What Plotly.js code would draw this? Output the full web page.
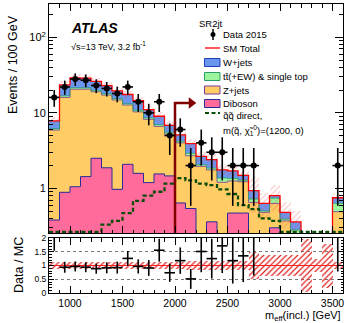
<!DOCTYPE html>
<html>
<head>
<meta charset="utf-8">
<script src="https://cdn.plot.ly/plotly-3.0.1.min.js"></script>
<style>
  html, body { margin: 0; padding: 0; background: #fff; }
  #chart { width: 349px; height: 323px; }
</style>
</head>
<body>
<div id="chart"></div>
<script>
// m_eff bins, 100 GeV wide
const binEdges = [800, 900, 1000, 1100, 1200, 1300, 1400, 1500, 1600, 1700, 1800, 1900, 2000, 2100,
                  2200, 2300, 2400, 2500, 2600, 2700, 2800, 2900, 3000, 3100, 3200, 3300, 3400, 3500, 3600];

// events / 100 GeV
const dataCounts = [16, 22, 28, 27, 23, 21, 18, 22, 14, 10, 14, 5, 6, 2,
                    4, 3, 3, 2, 2, 2, 0, 0, 0, 0, 0, 0, 0, 2];
const diboson = [0.38, 0.885, 1.05, 1.43, 2.5, 1.87, 0.97, 2.08, 1.58, 1.19, 1.55, 1.46, 0.64, 0.54,
                 0, 0.36, 0, 0.47, 0.47, 0, 0, 0.30, 0, 0, 0, 0, 0, 0];
const zJets = [5.52, 15.1, 19.45, 19.1, 16.5, 15.3, 13.8, 10.6, 8.7, 7.0, 5.05, 3.74, 3.36, 2.16,
               1.95, 1.39, 1.2, 0.78, 0.75, 0.65, 0.48, 0.33, 0.37, 0.24, 0.03, 0.04, 0.03, 0.49];
const ttbar = [0.25, 0.8, 0.9, 0.9, 0.8, 0.7, 0.6, 0.5, 0.5, 0.4, 0.35, 0.3, 0.2, 0.2,
               0.1, 0.1, 0.17, 0.1, 0.06, 0.07, 0.02, 0.11, 0.02, 0.04, 0.01, 0, 0, 0.14];
const wJets = [1.65, 6.7, 7.6, 7.4, 6.2, 5.1, 4.1, 4.3, 3.7, 2.4, 2.05, 1.3, 0.9, 1.0,
               0.6, 0.55, 0.38, 0.35, 0.2, 0.21, 0.13, 0.06, 0.09, 0.08, 0.01, 0.01, 0.01, 0.12];
// relative MC uncertainty (half width of hatched band)
const mcRelUnc = [0.12, 0.12, 0.12, 0.12, 0.12, 0.12, 0.12, 0.12, 0.13, 0.13, 0.13, 0.13, 0.14, 0.16,
                  0.17, 0.17, 0.17, 0.17, 0.17, 0.5, 0.37, 0.37, 0.37, 0.37, 0.95, 0.25, 0.8, 0.13];
// signal: squark pair, direct decay, m = (1200, 0)
const signal = [0.265, 0.265, 0.265, 0.265, 0.265, 0.33, 0.37, 0.47, 0.68, 0.8, 0.9, 1.15, 1.36, 1.27,
                1.15, 1.1, 0.97, 0.84, 0.6, 0.53, 0.4, 0.37, 0.265, 0.265, 0.265, 0.265, 0.265, 0.265];

const cutValue = 2000;   // SR2jt m_eff cut
const cutArrowEnd = 2150;
const cutArrowLevel = 13.5;

const colW = '#6a96ee', colT = '#9cf59c', colZ = '#ffcc66', colD = '#ff6b9a';
const lineW = '#1f3fbf', lineT = '#2a9d6a', lineZ = '#7a3a9a', lineD = '#2a2a9a';
const colSig = '#0b4d0b';
const colCut = '#800000';

// derived
const binCentres = binEdges.slice(0, -1).map((e, i) => (e + binEdges[i + 1]) / 2);
const cumD = diboson.slice();
const cumZ = cumD.map((v, i) => v + zJets[i]);
const cumT = cumZ.map((v, i) => v + ttbar[i]);
const total = cumT.map((v, i) => v + wJets[i]);

function stepY(vals) {
    const v = vals.map(x => Math.max(x, 1e-3));
    return v.concat([v[v.length - 1]]);
}

function stackBar(y, color) {
    return {type: 'bar', x: binCentres, y: y, width: 100, xaxis: 'x2', yaxis: 'y',
            marker: {color: color, line: {width: 0}}, hoverinfo: 'skip'};
}

function outline(y, color, width) {
    return {type: 'scatter', mode: 'lines', x: binEdges, y: stepY(y), xaxis: 'x2', yaxis: 'y',
            line: {shape: 'hv', color: color, width: width}, hoverinfo: 'skip'};
}

const hatch = {shape: '/', fgcolor: '#e02020', bgcolor: 'rgba(0,0,0,0)', size: 4, solidity: 0.3};

const dataY = dataCounts.map(n => n > 0 ? n : null);
const ratioY = dataCounts.map((n, i) => (n > 0 && total[i] > 0.1) ? n / total[i] : null);
const ratioErr = dataCounts.map((n, i) => (n > 0 && total[i] > 0.1) ? Math.sqrt(n) / total[i] : null);

const traces = [
    // stack, bottom to top
    stackBar(diboson, colD),
    stackBar(zJets, colZ),
    stackBar(ttbar, colT),
    stackBar(wJets, colW),
    // MC uncertainty on main panel
    {type: 'bar', x: binCentres, base: total.map((t, i) => t * (1 - mcRelUnc[i])),
     y: total.map((t, i) => 2 * t * mcRelUnc[i]), width: 100, xaxis: 'x2', yaxis: 'y',
     marker: {color: 'rgba(0,0,0,0)', line: {width: 0},
              pattern: {shape: '/', fgcolor: 'rgba(240,60,60,0.28)', bgcolor: 'rgba(0,0,0,0)', size: 4, solidity: 0.3}},
     hoverinfo: 'skip'},
    outline(cumD, lineD, 1),
    outline(cumZ, lineZ, 0.8),
    outline(cumT, lineT, 0.8),
    outline(total, '#ff0000', 1.3),
    // signal
    {type: 'scatter', mode: 'lines', x: binEdges, y: stepY(signal), xaxis: 'x2', yaxis: 'y',
     line: {shape: 'hv', color: colSig, width: 2.3, dash: '4px,2.5px'}},
    // cut line and arrow
    {type: 'scatter', mode: 'lines', x: [cutValue, cutValue, cutArrowEnd], y: [0.1, cutArrowLevel, cutArrowLevel],
     xaxis: 'x2', yaxis: 'y', line: {color: colCut, width: 2.5}},
    {type: 'scatter', mode: 'markers', x: [cutArrowEnd + 5], y: [cutArrowLevel], xaxis: 'x2', yaxis: 'y',
     marker: {symbol: 'triangle-right', size: 10, color: colCut}},
    // data
    {type: 'scatter', mode: 'markers', x: binCentres, y: dataY, xaxis: 'x2', yaxis: 'y',
     marker: {color: 'black', size: 6},
     error_y: {type: 'sqrt', color: 'black', thickness: 1.6, width: 0},
     error_x: {type: 'constant', value: 50, color: 'black', thickness: 1.6, width: 0}},

    // ratio panel
    {type: 'bar', x: binCentres, base: mcRelUnc.map(u => 1 - u), y: mcRelUnc.map(u => 2 * u),
     width: 100, xaxis: 'x', yaxis: 'y2',
     marker: {color: 'rgba(0,0,0,0)', line: {width: 0}, pattern: hatch}, hoverinfo: 'skip'},
    {type: 'scatter', mode: 'lines', x: [binEdges[0], binEdges[binEdges.length - 1]], y: [1, 1],
     xaxis: 'x', yaxis: 'y2', line: {color: '#ff2020', width: 1.2}},
    {type: 'scatter', mode: 'markers', x: binCentres, y: ratioY, xaxis: 'x', yaxis: 'y2',
     marker: {color: 'black', size: 1},
     error_y: {type: 'data', array: ratioErr, color: 'black', thickness: 1.6, width: 0},
     error_x: {type: 'constant', value: 50, color: 'black', thickness: 1.6, width: 0}}
];

// pixel helpers for the hand-drawn legend
const X = px => (px - 49) / 294;
const Y = py => (293 - py) / 289;

function legendBox(py, fill, edge) {
    return {type: 'rect', xref: 'paper', yref: 'paper', x0: X(204.5), x1: X(220), y0: Y(py + 4), y1: Y(py - 4),
            fillcolor: fill, line: {color: edge, width: 1}};
}
function label(text, px, py, size) {
    return {xref: 'paper', yref: 'paper', x: X(px), y: Y(py), xanchor: 'left', yanchor: 'middle',
            showarrow: false, text: text, font: {size: size}};
}

const tickOpts = {ticks: 'inside', tickcolor: 'black', showline: true, linecolor: 'black', linewidth: 1,
                  mirror: 'allticks', showgrid: false, zeroline: false};

const minorLog = [0.3, 0.4, 0.5, 0.6, 0.7, 0.8, 0.9, 2, 3, 4, 5, 6, 7, 8, 9, 20, 30, 40, 50, 60, 70, 80, 90, 200];

const layout = {
    width: 349, height: 323,
    margin: {l: 49, r: 6, t: 4, b: 30},
    paper_bgcolor: 'white', plot_bgcolor: 'white',
    font: {family: 'Liberation Sans, Arial, sans-serif', size: 10, color: 'black'},
    showlegend: false,
    barmode: 'stack', bargap: 0,
    xaxis: Object.assign({domain: [0, 1], anchor: 'y2', range: [800, 3600], tick0: 0, dtick: 500, ticklen: 7,
                          tickfont: {size: 10.5},
                          minor: {dtick: 100, tick0: 800, ticks: 'inside', ticklen: 3.5, tickcolor: 'black'}}, tickOpts),
    xaxis2: Object.assign({domain: [0, 1], anchor: 'y', matches: 'x', range: [800, 3600], tick0: 0, dtick: 500,
                           ticklen: 7, showticklabels: false,
                           minor: {dtick: 100, tick0: 800, ticks: 'inside', ticklen: 3.5, tickcolor: 'black'}}, tickOpts),
    yaxis: Object.assign({domain: [0.2076, 1], anchor: 'x2', type: 'log', range: [-0.592, 2.441],
                          tickmode: 'array', tickvals: [1, 10, 100], ticktext: ['1', '10', '10<sup>2</sup>'],
                          ticklen: 8, tickfont: {size: 11},
                          minor: {tickmode: 'array', tickvals: minorLog, ticks: 'inside', ticklen: 4, tickcolor: 'black'}}, tickOpts),
    yaxis2: Object.assign({domain: [0, 0.1903], anchor: 'x', range: [0, 2],
                           tickmode: 'array', tickvals: [0, 0.5, 1, 1.5, 2], ticktext: ['0', '0.5', '1', '1.5', '2'],
                           ticklen: 5, tickfont: {size: 8.5},
                           minor: {dtick: 0.1, tick0: 0, ticks: 'inside', ticklen: 2.5, tickcolor: 'black'}}, tickOpts,
                          {showgrid: true, gridcolor: '#777', griddash: 'dot', gridwidth: 1}),
    shapes: [
        {type: 'circle', xref: 'paper', yref: 'paper', x0: X(210.5), x1: X(215.5), y0: Y(37), y1: Y(32),
         fillcolor: 'black', line: {width: 0}},
        {type: 'line', xref: 'paper', yref: 'paper', x0: X(213), x1: X(213), y0: Y(29), y1: Y(40),
         line: {color: 'black', width: 1.5}},
        {type: 'line', xref: 'paper', yref: 'paper', x0: X(205), x1: X(220), y0: Y(48), y1: Y(48),
         line: {color: '#ff2020', width: 1.5}},
        legendBox(62.5, colW, lineW),
        legendBox(76.5, colT, lineT),
        legendBox(90, colZ, lineZ),
        legendBox(103.5, colD, lineD),
        {type: 'line', xref: 'paper', yref: 'paper', x0: X(205), x1: X(220), y0: Y(113), y1: Y(113),
         line: {color: colSig, width: 2.2, dash: '4px,2.5px'}}
    ],
    annotations: [
        label('<b><i>ATLAS</i></b>', 69, 27.5, 14),
        label('\u221As=13 TeV, 3.2 fb<sup>-1</sup>', 69, 46, 9),
        label('SR2jt', 197, 23, 9.5),
        label('Data 2015', 221, 34.5, 9.5),
        label('SM Total', 221, 48, 9.5),
        label('W+jets', 221, 62.5, 9.5),
        label('tt\u0304(+EW) & single top', 221, 76.5, 9.5),
        label('Z+jets', 221, 90, 9.5),
        label('Diboson', 221, 103.5, 9.5),
        label('q\u0303q\u0303 direct,', 221, 115.5, 9.5),
        label('m(q\u0303, \u03C7\u0303<sub>1</sub><sup>0</sup>)=(1200, 0)', 221, 130, 9.5),
        // axis titles
        {xref: 'paper', yref: 'paper', x: X(13), y: Y(65), text: 'Events / 100 GeV', textangle: -90,
         showarrow: false, xanchor: 'center', yanchor: 'middle', font: {size: 12.5}},
        {xref: 'paper', yref: 'paper', x: X(19), y: Y(265), text: 'Data / MC', textangle: -90,
         showarrow: false, xanchor: 'center', yanchor: 'middle', font: {size: 12.5}},
        {xref: 'paper', yref: 'paper', x: 1, y: Y(315.5), text: 'm<sub>eff</sub>(incl.) [GeV]',
         showarrow: false, xanchor: 'right', yanchor: 'middle', font: {size: 11}}
    ]
};

Plotly.newPlot('chart', traces, layout, {staticPlot: true});
</script>
</body>
</html>
